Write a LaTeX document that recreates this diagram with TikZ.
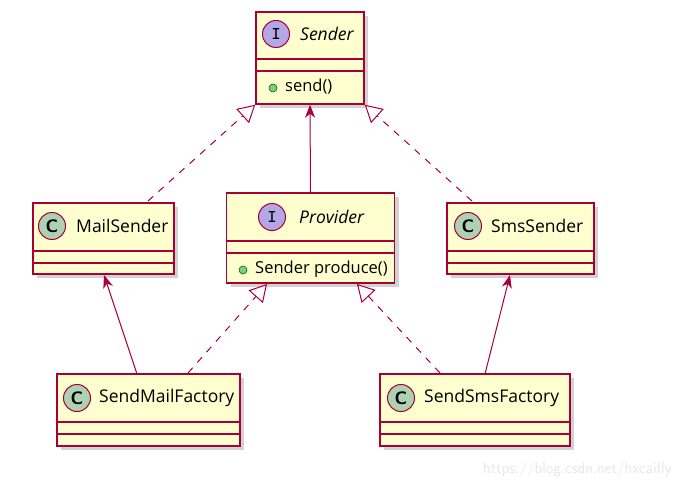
\documentclass[tikz,border=0pt]{standalone}
\usepackage{fontspec}
\setmainfont{Open Sans}
\usetikzlibrary{arrows.meta,shadows}
\definecolor{umlred}{HTML}{A80036}
\definecolor{umlfill}{HTML}{FEFECE}
\definecolor{ifill}{HTML}{B4A7E5}
\definecolor{cfill}{HTML}{ADD1B2}
\tikzset{
  box/.style={draw=umlred, line width=1.5pt, fill=umlfill, inner sep=0pt,
    drop shadow={shadow xshift=4pt, shadow yshift=-4pt, opacity=0.35, fill=gray}},
  divider/.style={draw=umlred, line width=1.5pt},
  badge/.style={circle, draw=umlred, line width=1pt, minimum size=27pt, inner sep=0pt},
  ibadge/.style={badge, fill=ifill, font=\ttfamily\bfseries\fontsize{18}{18}\selectfont},
  cbadge/.style={badge, fill=cfill, font=\sffamily\bfseries\fontsize{18}{18}\selectfont},
  title/.style={anchor=west, inner sep=0pt, font=\fontsize{17.5}{17.5}\selectfont},
  member/.style={anchor=west, inner sep=0pt, font=\fontsize{16.5}{16.5}\selectfont},
  pub/.style={circle, draw=green!40!black, fill=green!45!gray!70, minimum size=8pt, inner sep=0pt, line width=0.6pt},
  conn/.style={draw=umlred, line width=1pt},
  real/.style={conn, dash pattern=on 7pt off 7pt, -{Triangle[open, length=17pt, width=19pt, fill=white]}},
  assoc/.style={conn, -{Stealth[length=13pt, width=10pt, inset=4pt]}},
}
\begin{document}
\begin{tikzpicture}[x=1pt, y=-1pt]
\useasboundingbox[fill=white] (0,0) rectangle (690,487);

% Sender
\node[box, minimum width=108pt, minimum height=92pt] (sender) at (310,58) {};
\draw[divider] (256,59) -- (364,59);
\draw[divider] (256,71) -- (364,71);
\node[ibadge] (senderb) at (276,34) {I};
\node[title] (sendert) at (300,34) {\itshape Sender};
\node[pub] (senderp) at (273,88) {};
\node[member] (senderm) at (285,87) {send()};

% Provider
\node[box, minimum width=168pt, minimum height=90pt] (provider) at (310.5,238) {};
\draw[divider] (226.5,241) -- (394.5,241);
\draw[divider] (226.5,253) -- (394.5,253);
\node[ibadge] (providerb) at (272,217) {I};
\node[title] (providert) at (299,217) {\itshape Provider};
\node[pub] (providerp) at (243,270) {};
\node[member] (providerm) at (255,269) {Sender produce()};

% MailSender
\node[box, minimum width=141pt, minimum height=71pt] (mail) at (103.5,238.5) {};
\draw[divider] (33,251) -- (174,251);
\draw[divider] (33,263) -- (174,263);
\node[cbadge] (mailb) at (52,226) {C};
\node[title] (mailt) at (76,226) {MailSender};

% SmsSender
\node[box, minimum width=147pt, minimum height=71pt] (sms) at (520.5,238.5) {};
\draw[divider] (447,251) -- (594,251);
\draw[divider] (447,263) -- (594,263);
\node[cbadge] (smsb) at (468,226) {C};
\node[title] (smst) at (491,226) {SmsSender};

% SendMailFactory
\node[box, minimum width=183pt, minimum height=72pt] (mailf) at (148.5,410) {};
\draw[divider] (57,422) -- (240,422);
\draw[divider] (57,434) -- (240,434);
\node[cbadge] (mailfb) at (77,398) {C};
\node[title] (mailft) at (99,398) {SendMailFactory};

% SendSmsFactory
\node[box, minimum width=190pt, minimum height=72pt] (smsf) at (475,410) {};
\draw[divider] (380,422) -- (570,422);
\draw[divider] (380,434) -- (570,434);
\node[cbadge] (smsfb) at (401,398) {C};
\node[title] (smsft) at (424,398) {SendSmsFactory};

% connectors
\coordinate (c1) at (148,201);
\draw[real] (c1) -- (sender.south west);
\draw[assoc] (provider.north) -- (sender.south);
\coordinate (c2) at (472,201);
\draw[real] (c2) -- (sender.south east);
\coordinate (c3) at (137,374);
\draw[assoc] (c3) -- (104,275);
\coordinate (c4) at (188,373);
\draw[real] (c4) -- (267,284);
\coordinate (c5) at (440,373);
\draw[real] (c5) -- (357,284);
\coordinate (c6) at (485,374);
\draw[assoc] (c6) -- (510,275);

\node[anchor=west, inner sep=0pt, text=gray!18, font=\fontsize{16}{16}\selectfont\sffamily] (wm) at (483,469) {https://blog.csdn.net/hxcaifly};
\end{tikzpicture}
\end{document}
